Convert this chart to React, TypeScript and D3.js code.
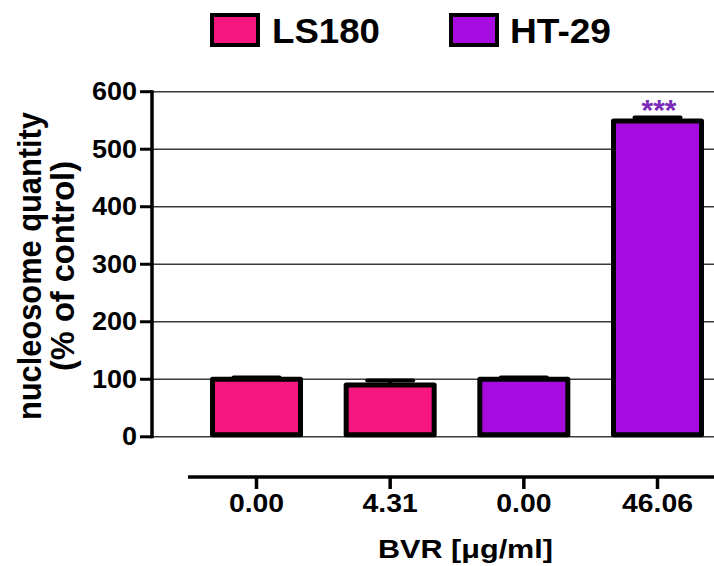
import React from "react";
import * as d3 from "d3";

const categories = ["0.00", "4.31", "0.00", "46.06"];
const cellLines = ["LS180", "LS180", "HT-29", "HT-29"];
const means = [100, 90, 100, 549];
const errors = [3, 8, 3, 6];
const yTicks = [0, 100, 200, 300, 400, 500, 600];
const legendItems = ["LS180", "HT-29"];
const significance = ["", "", "", "***"];

const colorOf: Record<string, string> = { LS180: "#F6167F", "HT-29": "#A60BE0" };
const FONT = "'Liberation Sans', Arial, Helvetica, sans-serif";

export default function App() {
  const W = 714;
  const H = 566;
  const y = d3.scaleLinear().domain([0, 600]).range([436.8, 91.7]);
  const x = d3
    .scalePoint<number>()
    .domain(categories.map((_, i) => i))
    .range([256.5, 657.5]);
  const barW = 88;
  const axisX = 152;

  return (
    <svg
      width={W}
      height={H}
      style={{ position: "absolute", left: 0, top: 0, background: "#fff" }}
      fontFamily={FONT}
      fontWeight="bold"
    >
      {/* legend */}
      {legendItems.map((name, i) => {
        const sx = i === 0 ? 212 : 451;
        const tx = i === 0 ? 272 : 510;
        const tl = i === 0 ? 108 : 101;
        return (
          <g key={name}>
            <rect x={sx} y={15} width={46} height={30} fill={colorOf[name]} stroke="#000" strokeWidth={4} />
            <text x={tx} y={43} fontSize={35} textLength={tl} lengthAdjust="spacingAndGlyphs" fill="#000">
              {name}
            </text>
          </g>
        );
      })}

      {/* gridlines */}
      {yTicks.map((t) => (
        <line key={"g" + t} x1={axisX} x2={W} y1={y(t)} y2={y(t)} stroke="#3a3a3a" strokeWidth={1.6} />
      ))}

      {/* y axis */}
      <line x1={axisX} x2={axisX} y1={y(600) - 1.5} y2={y(0) + 1.5} stroke="#000" strokeWidth={3.5} />
      {yTicks.map((t) => (
        <g key={"t" + t}>
          <line x1={140} x2={axisX} y1={y(t)} y2={y(t)} stroke="#000" strokeWidth={3} />
          <text transform={`translate(137, ${y(t) + 8.5}) scale(1.08, 1)`} fontSize={25} textAnchor="end" fill="#000">
            {t}
          </text>
        </g>
      ))}

      {/* y axis title */}
      <g transform={`translate(0, 266) rotate(-90)`}>
        <text x={0} y={41} fontSize={33} textAnchor="middle" textLength={308} lengthAdjust="spacingAndGlyphs" fill="#000">
          nucleosome quantity
        </text>
        <text x={0} y={74} fontSize={33} textAnchor="middle" textLength={210} lengthAdjust="spacingAndGlyphs" fill="#000">
          (% of control)
        </text>
      </g>

      {/* error bars */}
      {means.map((m, i) => {
        const cx = x(i) as number;
        return (
          <g key={"e" + i}>
            <line x1={cx} x2={cx} y1={y(m)} y2={y(m + errors[i])} stroke="#000" strokeWidth={4} />
            <line x1={cx - 23} x2={cx + 23} y1={y(m + errors[i])} y2={y(m + errors[i])} stroke="#000" strokeWidth={4} strokeLinecap="round" />
          </g>
        );
      })}

      {/* bars */}
      {means.map((m, i) => {
        const cx = x(i) as number;
        return (
          <rect
            key={"b" + i}
            x={cx - barW / 2}
            y={y(m)}
            width={barW}
            height={y(0) - y(m) - 2}
            fill={colorOf[cellLines[i]]}
            stroke="#000"
            strokeWidth={5}
            strokeLinejoin="round"
          />
        );
      })}

      {/* significance */}
      {significance.map((s, i) =>
        s ? (
          <text key={"s" + i} x={(x(i) as number) + 1.5} y={120} fontSize={30} textAnchor="middle" fill="#7B2DB8">
            {s}
          </text>
        ) : null
      )}

      {/* bottom axis */}
      <line x1={188} x2={W} y1={477} y2={477} stroke="#000" strokeWidth={3.5} />
      {categories.map((c, i) => {
        const cx = x(i) as number;
        return (
          <g key={"x" + i}>
            <line x1={cx} x2={cx} y1={477} y2={489} stroke="#000" strokeWidth={3.5} />
            <text transform={`translate(${cx}, 512) scale(1.09, 1)`} fontSize={26} textAnchor="middle" fill="#000">
              {c}
            </text>
          </g>
        );
      })}

      {/* x axis title */}
      <text x={465.5} y={558} fontSize={26} textAnchor="middle" textLength={175} lengthAdjust="spacingAndGlyphs" fill="#000">
        BVR [μg/ml]
      </text>
    </svg>
  );
}
